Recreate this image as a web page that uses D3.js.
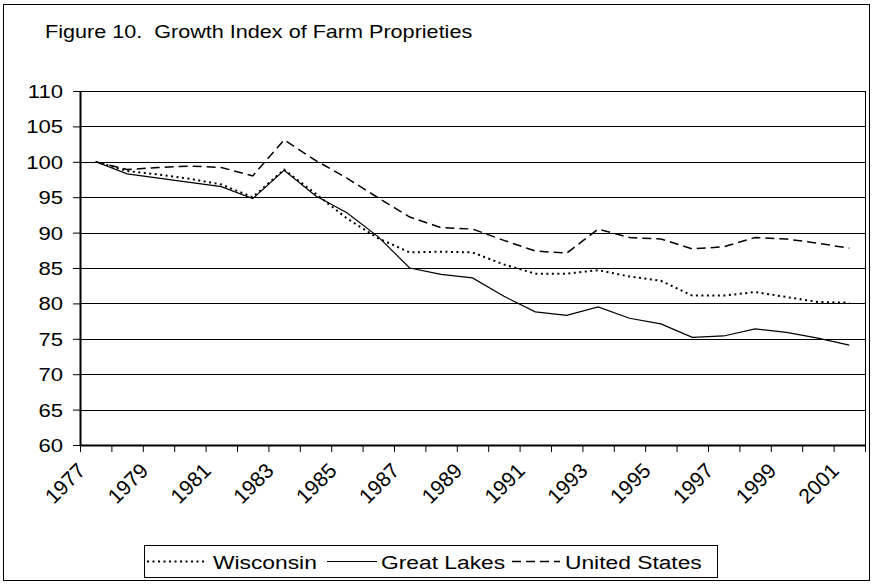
<!DOCTYPE html>
<html>
<head>
<meta charset="utf-8">
<script src="https://cdn.jsdelivr.net/npm/d3@7"></script>
<style>
  body { margin: 0; background: #fff; }
  text { font-family: "Liberation Sans", Arial, sans-serif; fill: #000; }
</style>
</head>
<body>
<script>
// values (index, 1977 = 100)
const years = ["1977","1978","1979","1980","1981","1982","1983","1984","1985","1986","1987","1988","1989",
               "1990","1991","1992","1993","1994","1995","1996","1997","1998","1999","2000","2001"];
const labelYears = ["1977","1979","1981","1983","1985","1987","1989","1991","1993","1995","1997","1999","2001"];
const wisconsin = [100, 98.7, 98.2, 97.6, 96.8, 95.0, 98.9, 95.5, 92.0, 89.2, 87.2, 87.3, 87.2,
                   85.5, 84.2, 84.2, 84.7, 83.8, 83.2, 81.1, 81.1, 81.6, 80.9, 80.2, 80.1];
const greatLakes = [100, 98.3, 97.7, 97.1, 96.5, 94.8, 98.8, 95.2, 92.8, 89.4, 85.0, 84.1, 83.6,
                    81.0, 78.8, 78.3, 79.5, 77.9, 77.1, 75.2, 75.4, 76.4, 75.9, 75.1, 74.1];
const unitedStates = [100, 98.9, 99.2, 99.4, 99.2, 98.0, 103.1, 100.2, 97.7, 94.9, 92.2, 90.7, 90.5,
                      88.9, 87.4, 87.1, 90.5, 89.3, 89.1, 87.7, 88.0, 89.3, 89.1, 88.5, 87.8];
const yTicks = [60, 65, 70, 75, 80, 85, 90, 95, 100, 105, 110];

const series = [
  {name: "Wisconsin", values: wisconsin, dash: "2,3.5", w: 2},
  {name: "Great Lakes", values: greatLakes, dash: null, w: 1.2},
  {name: "United States", values: unitedStates, dash: "9,5", w: 1.5}
];

const W = 876, H = 585;
const svg = d3.select("body").append("svg").attr("width", W).attr("height", H);
const sx = 1.2; // text in the source is a bit wider than tall

// outer frame
svg.append("rect").attr("x", 3.5).attr("y", 4.5).attr("width", 866).attr("height", 576)
  .attr("fill", "none").attr("stroke", "#000").attr("stroke-width", 1);

svg.append("text")
  .attr("transform", `translate(45,38) scale(${sx},1)`)
  .style("font-size", "18px").style("white-space", "pre")
  .text("Figure 10.  Growth Index of Farm Proprieties");

const pLeft = 80, pRight = 865, pTop = 91, pBottom = 445;

let x = d3.scaleBand().domain(years).range([pLeft, pRight]).padding(0);
let y = d3.scaleLinear().domain([60, 110]).range([pBottom, pTop]);
const cx = d => x(d) + x.bandwidth() / 2;

// gridlines
svg.append("g").selectAll("line").data(yTicks.filter(d => d > 60)).enter().append("line")
  .attr("x1", pLeft).attr("x2", pRight)
  .attr("y1", d => Math.round(y(d)) + 0.5).attr("y2", d => Math.round(y(d)) + 0.5)
  .attr("stroke", "#000").attr("stroke-width", 1);
// right border of plot
svg.append("line").attr("x1", pRight + 0.5).attr("x2", pRight + 0.5).attr("y1", pTop).attr("y2", pBottom)
  .attr("stroke", "#000").attr("stroke-width", 1);

// y axis
let yAxis = svg.append("g").attr("transform", `translate(${pLeft},0)`)
  .call(d3.axisLeft(y).tickValues(yTicks).tickSize(7).tickSizeOuter(0));
yAxis.select(".domain").attr("stroke-width", 2);
yAxis.selectAll(".tick line").attr("stroke-width", 1);
yAxis.selectAll("text").attr("font-size", null).style("font-size", "18.4px")
  .attr("x", null).attr("dy", null)
  .attr("transform", `translate(-17,6.5) scale(${sx},1)`);

// x axis ticks on category boundaries
let xb = d3.scaleLinear().domain([0, years.length]).range([pLeft, pRight]);
let xAxis = svg.append("g").attr("transform", `translate(0,${pBottom})`)
  .call(d3.axisBottom(xb).tickValues(d3.range(0, years.length + 1)).tickFormat("").tickSize(7).tickSizeOuter(0));
xAxis.select(".domain").attr("stroke-width", 2);

svg.append("g").selectAll("text").data(labelYears).enter().append("text")
  .attr("transform", d => `translate(${cx(d) - 9},${pBottom + 27}) rotate(-45)`)
  .attr("text-anchor", "end")
  .style("font-size", "21px")
  .text(d => d);

// lines
let line = d3.line().x((d, i) => cx(years[i])).y(d => y(d));
svg.append("g").selectAll("path").data(series).enter().append("path")
  .attr("d", d => line(d.values))
  .attr("fill", "none").attr("stroke", "#000")
  .attr("stroke-width", d => d.w)
  .attr("stroke-dasharray", d => d.dash);

// legend
let lg = svg.append("g");
lg.append("rect").attr("x", 144.5).attr("y", 545.5).attr("width", 573).attr("height", 32)
  .attr("fill", "#fff").attr("stroke", "#000");
const legendPos = [{x0: 147, x1: 207, tx: 213}, {x0: 327, x1: 377, tx: 381}, {x0: 512, x1: 560, tx: 565}];
series.forEach((s, i) => {
  let p = legendPos[i];
  lg.append("line").attr("x1", p.x0).attr("x2", p.x1).attr("y1", 561.5).attr("y2", 561.5)
    .attr("stroke", "#000").attr("stroke-width", s.w).attr("stroke-dasharray", s.dash);
  lg.append("text").attr("transform", `translate(${p.tx},568.5) scale(${sx},1)`)
    .style("font-size", "19px").text(s.name);
});
</script>
</body>
</html>
